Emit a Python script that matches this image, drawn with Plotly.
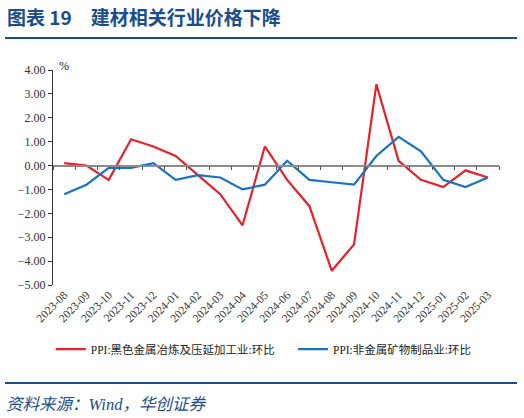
import plotly.graph_objects as go

months = ["2023-08", "2023-09", "2023-10", "2023-11", "2023-12", "2024-01", "2024-02",
          "2024-03", "2024-04", "2024-05", "2024-06", "2024-07", "2024-08", "2024-09",
          "2024-10", "2024-11", "2024-12", "2025-01", "2025-02", "2025-03"]
ferrous = [0.1, 0.0, -0.6, 1.1, 0.8, 0.4, -0.4, -1.2, -2.5, 0.8,
           -0.6, -1.7, -4.4, -3.3, 3.4, 0.2, -0.6, -0.9, -0.2, -0.5]
nonmetal = [-1.2, -0.8, -0.1, -0.1, 0.1, -0.6, -0.4, -0.5, -1.0, -0.8,
            0.2, -0.6, -0.7, -0.8, 0.4, 1.2, 0.6, -0.6, -0.9, -0.5]
name_red = "PPI:黑色金属冶炼及压延加工业:环比"
name_blue = "PPI:非金属矿物制品业:环比"

RED = "#E8202A"
BLUE = "#1A72C4"
NAVY = "#1B4D8E"
FONT = "Liberation Serif, Noto Sans CJK SC"

fig = go.Figure()
fig.add_trace(go.Scatter(x=months, y=ferrous, mode="lines", name=name_red,
                         line=dict(color=RED, width=2.2), legend="legend"))
fig.add_trace(go.Scatter(x=months, y=nonmetal, mode="lines", name=name_blue,
                         line=dict(color=BLUE, width=2.2), legend="legend2"))

ymin, ymax = -5, 4
zero_pos = (0 - ymin) / (ymax - ymin)

leg = dict(orientation="h", xanchor="left", y=-0.298, yanchor="middle",
           font=dict(size=11.5, family=FONT, color="#222"),
           itemwidth=30, bgcolor="rgba(0,0,0,0)")

fig.update_layout(
    width=524, height=418,
    margin=dict(l=53, r=25, t=70, b=133),
    paper_bgcolor="white", plot_bgcolor="white",
    font=dict(family=FONT, size=12, color="#222"),
    showlegend=True,
    legend=dict(leg, x=-0.005),
    legend2=dict(leg, x=(293 - 53) / 446),
    xaxis=dict(type="category", range=[-0.5, 19.5], showline=False, ticks="",
               tickangle=-45, tickfont=dict(size=11.5, family=FONT, color="#333"),
               showgrid=False, zeroline=False),
    xaxis2=dict(overlaying="x", anchor="free", position=zero_pos, range=[-0.5, 19.5],
                showline=True, linecolor="#8C8C8C", linewidth=1.5,
                tickmode="array", tickvals=[i - 0.5 for i in range(21)],
                ticktext=[""] * 21, ticks="outside", ticklen=4, tickcolor="#555",
                showgrid=False, zeroline=False, side="bottom"),
    yaxis=dict(range=[ymin, ymax], dtick=1, tickformat=".2f", showline=True,
               linecolor="#333", linewidth=1, ticks="outside", ticklen=4, tickcolor="#333",
               showgrid=False, zeroline=False, tickfont=dict(size=12, family=FONT, color="#333")),
)

# invisible trace so xaxis2 (the zero line with ticks) renders
fig.add_trace(go.Scatter(x=[-0.5, 19.5], y=[0, 0], xaxis="x2", mode="lines",
                         line=dict(width=0), hoverinfo="skip", showlegend=False))

fig.add_annotation(text="<b>图表 19　建材相关行业价格下降</b>", xref="paper", yref="paper",
                   x=-48 / 446, y=1 + (70 - 17) / 215, xanchor="left", yanchor="middle",
                   showarrow=False, font=dict(size=19, color=NAVY,
                                              family="Noto Sans CJK SC, Liberation Serif"))
fig.add_annotation(text="%", xref="paper", yref="paper", x=4 / 446, y=1 + 4 / 215,
                   xanchor="left", yanchor="middle", showarrow=False,
                   font=dict(size=12, family=FONT, color="#222"))
fig.add_annotation(text="<i>资料来源：Wind，华创证券</i>", xref="paper", yref="paper",
                   x=-49 / 446, y=(285 - 404) / 215, xanchor="left", yanchor="middle",
                   showarrow=False, font=dict(size=16.5, color=NAVY, family=FONT))

for ypix in (38, 383):
    fig.add_shape(type="line", xref="paper", yref="paper",
                  x0=-48 / 446, x1=(517 - 53) / 446,
                  y0=(285 - ypix) / 215, y1=(285 - ypix) / 215,
                  line=dict(color=NAVY, width=2))

fig.write_html("out.html", config={"displayModeBar": False},
               post_script="document.body.style.margin='0';")
